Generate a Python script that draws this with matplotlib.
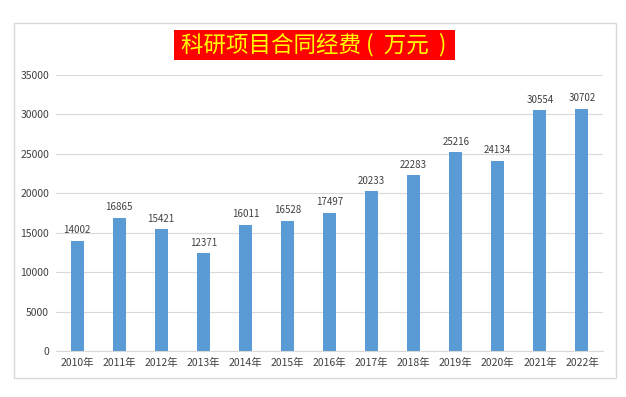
import matplotlib.pyplot as plt
from matplotlib.patches import Rectangle

plt.rcParams['font.family'] = ['Noto Sans CJK SC', 'DejaVu Sans']

years = ['2010年', '2011年', '2012年', '2013年', '2014年', '2015年', '2016年',
         '2017年', '2018年', '2019年', '2020年', '2021年', '2022年']
funds = [14002, 16865, 15421, 12371, 16011, 16528, 17497,
         20233, 22283, 25216, 24134, 30554, 30702]
yticks = [0, 5000, 10000, 15000, 20000, 25000, 30000, 35000]

fig = plt.figure(figsize=(6.26, 3.97), dpi=100)
fig.patch.set_facecolor('white')

# light outer frame like the Excel chart area
fig.add_artist(Rectangle((14 / 626, 1 - 378 / 397), (616 - 14) / 626, (378 - 23) / 397,
                         transform=fig.transFigure, fill=False,
                         edgecolor='#D9D9D9', linewidth=1))
# red title box
fig.add_artist(Rectangle((174 / 626, 1 - 60 / 397), (455 - 174) / 626, 30 / 397,
                         transform=fig.transFigure, facecolor='#FF0000',
                         edgecolor='none'))

ax = fig.add_axes([56 / 626, 1 - 351 / 397, (603 - 56) / 626, (351 - 75) / 397])
x = range(len(years))
bars = ax.bar(x, funds, width=0.31, color='#5B9BD5', zorder=3)

for xi, v in zip(x, funds):
    ax.annotate(str(v), (xi, v), xytext=(0, 4), textcoords='offset points',
                ha='center', va='bottom', fontsize=7, color='#404040')

ax.set_xlim(-0.5, len(years) - 0.5)
ax.set_ylim(0, 35000)
ax.set_yticks(yticks)
ax.set_yticklabels([str(t) for t in yticks])
ax.set_xticks(list(x))
ax.set_xticklabels(years)
ax.tick_params(axis='both', length=0, labelsize=7.5, labelcolor='#404040')
ax.tick_params(axis='y', pad=5)
ax.tick_params(axis='x', pad=5)
ax.grid(axis='y', color='#D9D9D9', linewidth=0.8, zorder=0)
for s in ['top', 'right', 'left']:
    ax.spines[s].set_visible(False)
ax.spines['bottom'].set_color('#D9D9D9')

fig.text(314 / 626, 1 - 45 / 397, '科研项目合同经费 (  万元  )', ha='center', va='center',
         fontsize=16.2, color='#FFFF00')

fig.savefig('out.png', dpi=100)
